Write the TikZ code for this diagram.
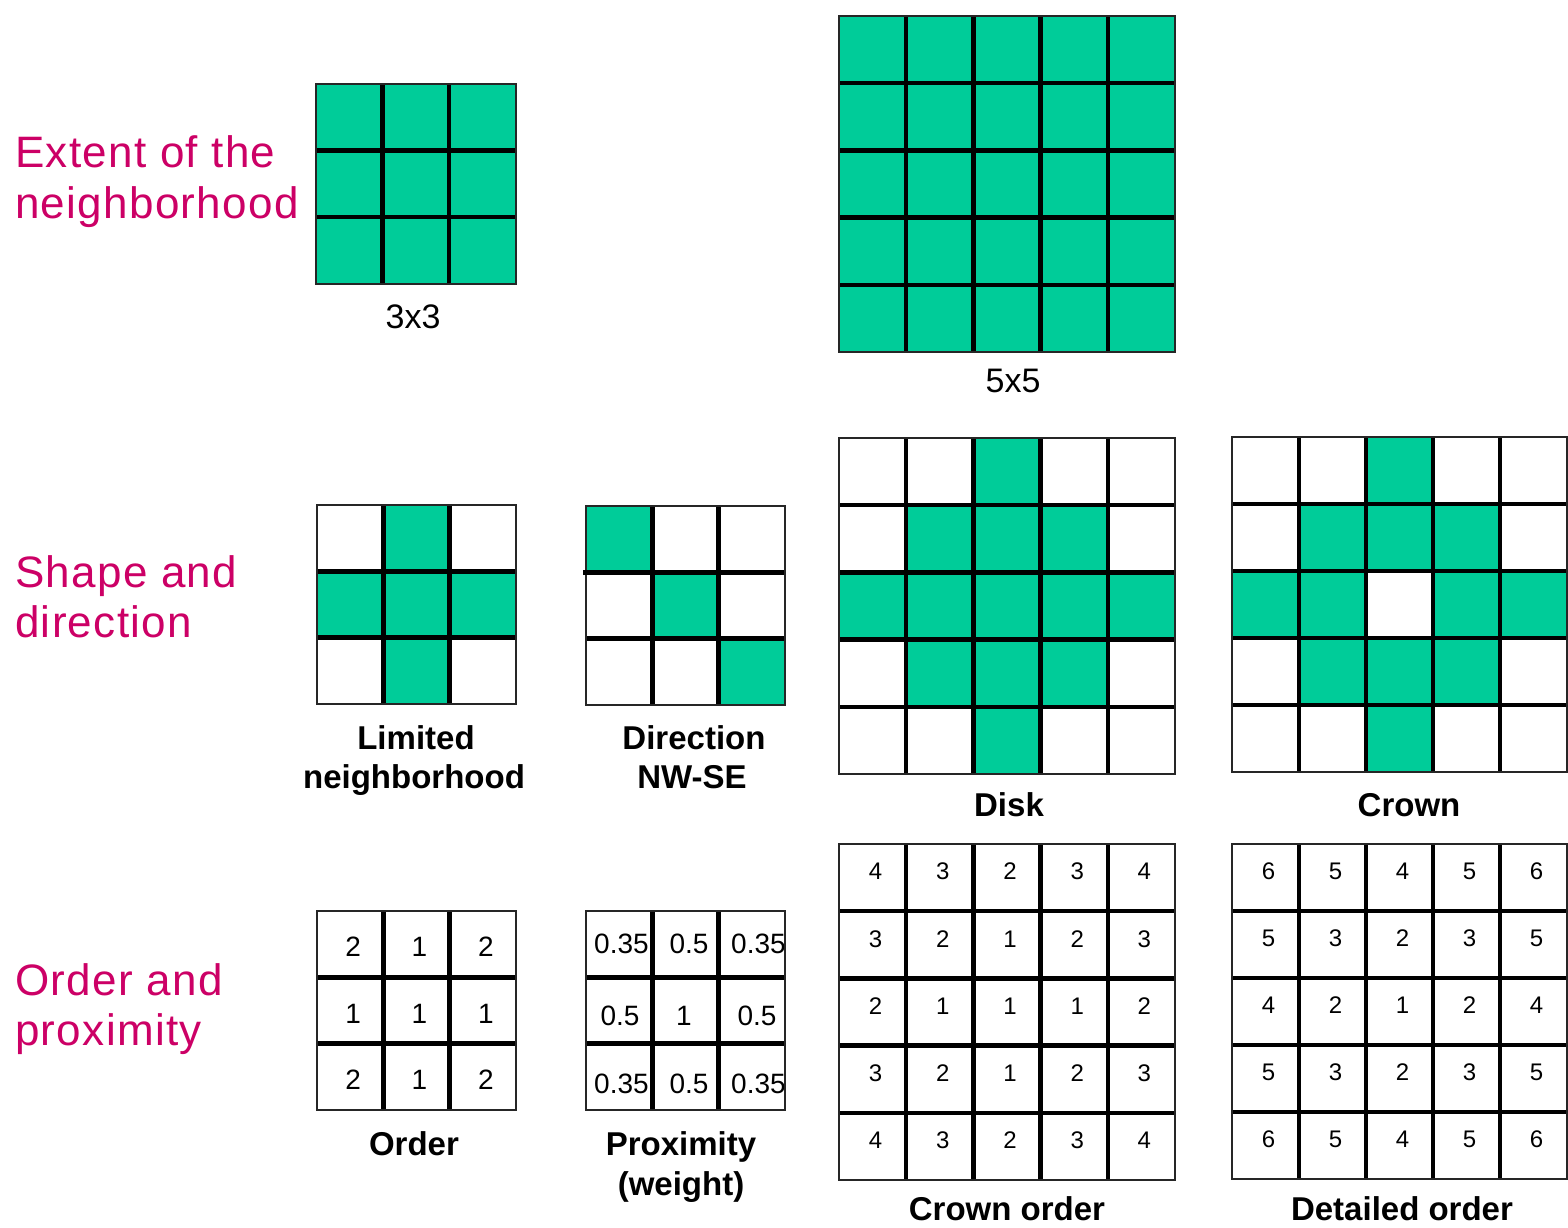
\documentclass[tikz,border=0pt]{standalone}
\usepackage{fontspec}
\setmainfont{Liberation Sans}
\newfontfamily\headfont[LetterSpace=3]{Liberation Sans}
\definecolor{cellgreen}{RGB}{0,204,153}
\definecolor{magentaT}{RGB}{204,0,102}
\tikzset{
  inner/.style={line width=4.5pt, black},
  outer/.style={line width=2pt, black!85},
  headtext/.style={text=magentaT, font=\headfont\fontsize{44}{50}\selectfont, anchor=base west, inner sep=0pt},
  captext/.style={font=\bfseries\fontsize{33}{40}\selectfont, anchor=base, inner sep=0pt},
  dimtext/.style={font=\fontsize{34}{40}\selectfont, anchor=base, inner sep=0pt},
  bignum/.style={font=\fontsize{24}{24}\selectfont, inner sep=0pt},
  smallnum/.style={font=\fontsize{28}{28}\selectfont, inner sep=0pt},
}
\newcommand\gridlines[4]{% x0,y0,size,n
  \pgfmathsetmacro\gcs{#3/#4}
  \pgfmathtruncatemacro\gnm{#4-1}
  \foreach \k in {1,...,\gnm}{
    \draw[inner] ({#1+\k*\gcs},#2) -- ({#1+\k*\gcs},{#2+#3});
    \draw[inner] (#1,{#2+\k*\gcs}) -- ({#1+#3},{#2+\k*\gcs});
  }
  \draw[outer] (#1,#2) rectangle ({#1+#3},{#2+#3});
}
\newcommand\fillcells[5]{% x0,y0,size,n,list i/j
  \pgfmathsetmacro\gcs{#3/#4}
  \foreach \i/\j in {#5}{
    \fill[cellgreen] ({#1+\i*\gcs},{#2+\j*\gcs}) rectangle ++(\gcs,\gcs);
  }
}
\newcommand\numcells[8]{% name,x0,y0,size,n,style,dy,list
  \foreach \v [count=\c from 0] in {#8}{
    \pgfmathtruncatemacro\ci{mod(\c,#5)}
    \pgfmathtruncatemacro\cj{floor(\c/#5)}
    \node[#6] (#1-\c) at ({#2+(\ci+0.5)*#4/#5+3},{#3+(\cj+0.5)*#4/#5+#7}) {\v};
  }
}
\begin{document}
\begin{tikzpicture}[x=1pt,y=-1pt]
\fill[white] (0,0) rectangle (1568,1227);
\useasboundingbox (0,0) rectangle (1568,1227);

% ---------- headings ----------
\node[headtext] (h1a) at (15,167) {Extent of the};
\node[headtext] (h1b) at (15,218) {neighborhood};
\node[headtext] (h2a) at (15,587) {Shape and};
\node[headtext] (h2b) at (15,637) {direction};
\node[headtext] (h3a) at (15,995) {Order and};
\node[headtext] (h3b) at (15,1045) {proximity};

% ---------- row 1 ----------
\fill[cellgreen] (316,84) rectangle (515,284);
\gridlines{316}{84}{199.5}{3}
\node[dimtext] (l3x3) at (413,328) {3x3};

\fill[cellgreen] (839,16) rectangle (1175,351);
\gridlines{839}{16}{336}{5}
\node[dimtext] (l5x5) at (1013,392) {5x5};

% ---------- row 2 ----------
\fillcells{317}{505}{199}{3}{1/0,0/1,1/1,2/1,1/2}
\gridlines{317}{505}{199}{3}
\node[captext] (llim1) at (416,749) {Limited};
\node[captext] (llim2) at (414,788) {neighborhood};

\fillcells{586}{506}{199}{3}{0/0,1/1,2/2}
\gridlines{586}{506}{199}{3}
\draw[inner] (583,572.3) -- (588,572.3);
\node[captext] (ldir1) at (694,749) {Direction};
\node[captext] (ldir2) at (692,788) {NW-SE};

\fillcells{839}{438}{336}{5}{2/0,1/1,2/1,3/1,0/2,1/2,2/2,3/2,4/2,1/3,2/3,3/3,2/4}
\gridlines{839}{438}{336}{5}
\node[captext] (ldisk) at (1009,816) {Disk};

\fillcells{1232}{437}{335}{5}{2/0,1/1,2/1,3/1,0/2,1/2,3/2,4/2,1/3,2/3,3/3,2/4}
\gridlines{1232}{437}{335}{5}
\node[captext] (lcrown) at (1409,816) {Crown};

% ---------- row 3 ----------
\numcells{ord}{317}{911}{199}{3}{smallnum}{3}{2,1,2,1,1,1,2,1,2}
\gridlines{317}{911}{199}{3}
\node[captext] (lorder) at (414,1155) {Order};

\node[smallnum, anchor=west] (p0) at (594,944) {0.35};
\node[smallnum] (p1) at (689,944) {0.5};
\node[smallnum, anchor=west] (p2) at (731,944) {0.35};
\node[smallnum] (p3) at (620,1016) {0.5};
\node[smallnum] (p4) at (684,1016) {1};
\node[smallnum] (p5) at (757,1016) {0.5};
\node[smallnum, anchor=west] (p6) at (594,1084) {0.35};
\node[smallnum] (p7) at (689,1084) {0.5};
\node[smallnum, anchor=west] (p8) at (731,1084) {0.35};
\gridlines{586}{911}{199}{3}
\node[captext] (lprox1) at (681,1155) {Proximity};
\node[captext] (lprox2) at (681,1195) {(weight)};

\numcells{cro}{839}{844}{336}{5}{bignum}{-6}{4,3,2,3,4,3,2,1,2,3,2,1,1,1,2,3,2,1,2,3,4,3,2,3,4}
\gridlines{839}{844}{336}{5}
\node[captext] (lcrord) at (1007,1220) {Crown order};

\numcells{det}{1232}{844}{335}{5}{bignum}{-6}{6,5,4,5,6,5,3,2,3,5,4,2,1,2,4,5,3,2,3,5,6,5,4,5,6}
\gridlines{1232}{844}{335}{5}
\node[captext] (ldet) at (1402,1220) {Detailed order};
\end{tikzpicture}
\end{document}
